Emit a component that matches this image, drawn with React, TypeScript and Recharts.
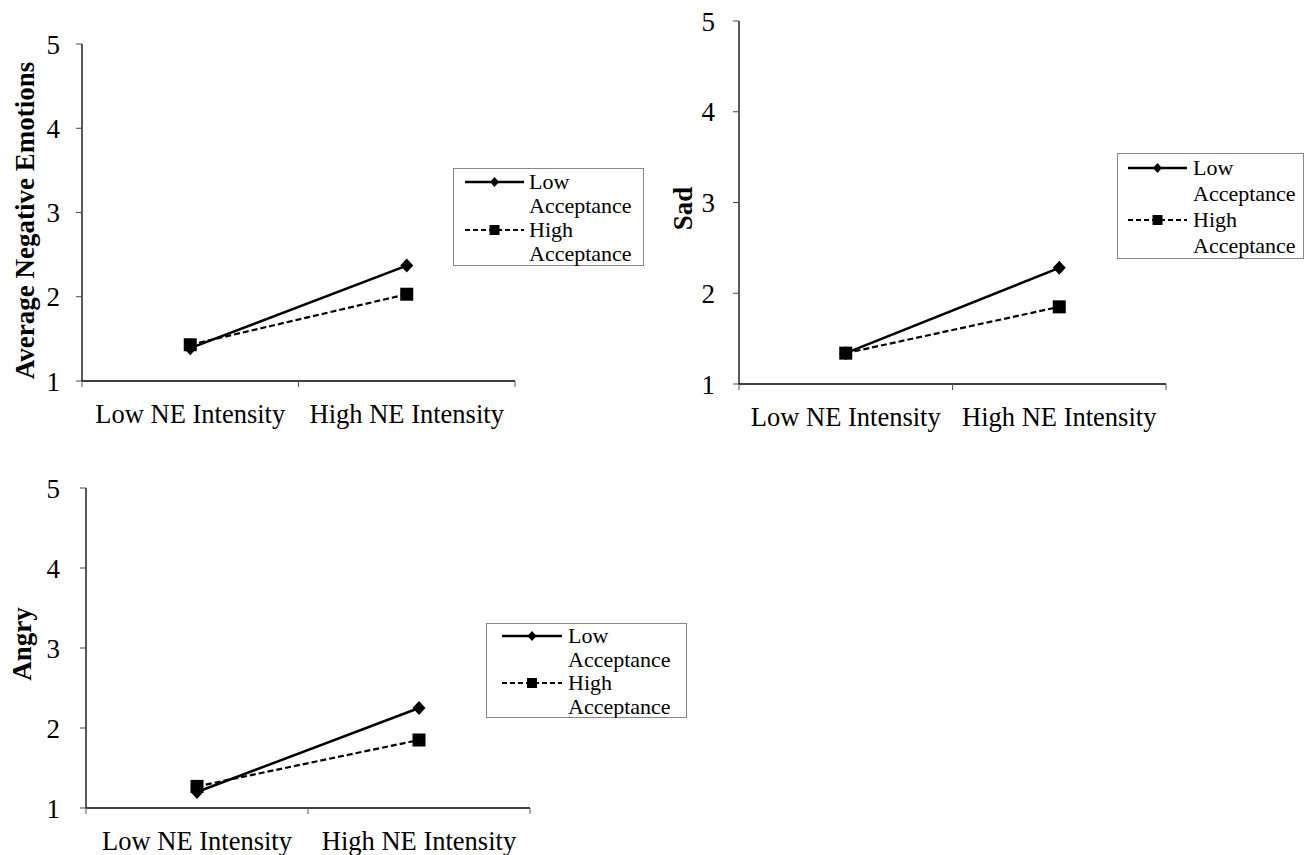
import React from "react";
import { LineChart, Line, XAxis, YAxis, Legend, Label } from "recharts";

const categories = ["Low NE Intensity", "High NE Intensity"];
const seriesNames = ["Low Acceptance", "High Acceptance"];
const yTicks = [1, 2, 3, 4, 5];
const xTicks = [0, 0.5, 1, 1.5, 2];

const negLowAcc = [1.39, 2.37];
const negHighAcc = [1.43, 2.03];
const sadLowAcc = [1.34, 2.28];
const sadHighAcc = [1.34, 1.85];
const angryLowAcc = [1.2, 2.25];
const angryHighAcc = [1.27, 1.85];

const FONT = "'Liberation Serif', 'Times New Roman', 'DejaVu Serif', serif";

function buildData(low: number[], high: number[]) {
  return categories.map((c, i) => ({ pos: i + 0.5, category: c, low: low[i], high: high[i] }));
}

const XTick = (props: any) => {
  const { x, y, payload } = props;
  const v = payload.value;
  if (Math.abs(v - Math.round(v)) < 1e-6) {
    return <line x1={x} x2={x} y1={y} y2={y + 6} stroke="#555" strokeWidth={1} />;
  }
  const idx = Math.floor(v);
  return (
    <text x={x} y={y + 42} textAnchor="middle" style={{ fontFamily: FONT }} fontSize={26.5} fill="#000">
      {categories[idx]}
    </text>
  );
};

const DiamondDot = (props: any) => {
  const { cx, cy, index } = props;
  if (cx == null || cy == null) return <g key={`dd-${index}`} />;
  const w = 6.5;
  const h = 7;
  return (
    <path
      key={`dd-${index}`}
      d={`M${cx},${cy - h}L${cx + w},${cy}L${cx},${cy + h}L${cx - w},${cy}Z`}
      fill="#000"
    />
  );
};

const SquareDot = (props: any) => {
  const { cx, cy, index } = props;
  if (cx == null || cy == null) return <g key={`sd-${index}`} />;
  const s = 6.5;
  return <rect key={`sd-${index}`} x={cx - s} y={cy - s} width={2 * s} height={2 * s} fill="#000" />;
};

type LegendCfg = {
  left: number;
  top: number;
  width: number;
  height: number;
  lineX1: number;
  lineX2: number;
  textX: number;
  firstY: number;
  rowH: number;
};

const makeLegend = (cfg: LegendCfg) => (props: any) => {
  const payload = [...(props.payload || [])].sort(
    (a: any, b: any) => seriesNames.indexOf(String(a.value)) - seriesNames.indexOf(String(b.value))
  );
  return (
    <svg width={cfg.width} height={cfg.height} style={{ display: "block" }}>
      <rect x={0.5} y={0.5} width={cfg.width - 1} height={cfg.height - 1} fill="#fff" stroke="#888" />
      {payload.map((entry: any, i: number) => {
        const ly = cfg.firstY + i * 2 * cfg.rowH;
        const words = String(entry.value).split(" ");
        const mx = (cfg.lineX1 + cfg.lineX2) / 2;
        const isLow = entry.dataKey === "low";
        return (
          <g key={i}>
            <line
              x1={cfg.lineX1}
              x2={cfg.lineX2}
              y1={ly}
              y2={ly}
              stroke="#000"
              strokeWidth={isLow ? 2.4 : 2}
              strokeDasharray={isLow ? undefined : "5 3"}
            />
            {isLow ? (
              <path d={`M${mx},${ly - 5}L${mx + 4.5},${ly}L${mx},${ly + 5}L${mx - 4.5},${ly}Z`} fill="#000" />
            ) : (
              <rect x={mx - 5} y={ly - 5} width={10} height={10} fill="#000" />
            )}
            <text x={cfg.textX} y={ly + 7} style={{ fontFamily: FONT }} fontSize={22} fill="#000">
              {words[0]}
            </text>
            <text x={cfg.textX} y={ly + 7 + cfg.rowH} style={{ fontFamily: FONT }} fontSize={22} fill="#000">
              {words.slice(1).join(" ")}
            </text>
          </g>
        );
      })}
    </svg>
  );
};

type PanelProps = {
  left: number;
  top: number;
  width: number;
  height: number;
  margin: { top: number; right: number; bottom: number; left: number };
  yLabel: string;
  labelX: number;
  labelDy: number;
  tickMargin: number;
  low: number[];
  high: number[];
  legend: LegendCfg;
};

const Panel = (p: PanelProps) => {
  const data = buildData(p.low, p.high);
  const renderYLabel = (props: any) => {
    const vb = props.viewBox || {};
    const cy = (vb.y || 0) + (vb.height || 0) / 2 + p.labelDy;
    return (
      <text
        x={p.labelX}
        y={cy}
        transform={`rotate(-90, ${p.labelX}, ${cy})`}
        textAnchor="middle"
        dominantBaseline="central"
        style={{ fontFamily: FONT }}
        fontWeight="bold"
        fontSize={27}
        fill="#000"
      >
        {p.yLabel}
      </text>
    );
  };
  return (
    <div style={{ position: "absolute", left: p.left, top: p.top, width: p.width, height: p.height, fontFamily: FONT }}>
      <LineChart width={p.width} height={p.height} data={data} margin={p.margin} style={{ fontFamily: FONT }}>
        <XAxis
          dataKey="pos"
          type="number"
          domain={[0, 2]}
          ticks={xTicks}
          interval={0}
          tick={XTick}
          tickLine={false}
          tickSize={0}
          tickMargin={0}
          height={40}
          axisLine={{ stroke: "#000", strokeWidth: 1.3 }}
        />
        <YAxis
          type="number"
          domain={[1, 5]}
          ticks={yTicks}
          interval={0}
          width={60}
          tickSize={6}
          tickMargin={p.tickMargin}
          tickLine={{ stroke: "#444" }}
          axisLine={{ stroke: "#000", strokeWidth: 1.3 }}
          tick={{ fontSize: 27, fill: "#000", style: { fontFamily: FONT } }}
        >
          <Label content={renderYLabel} />
        </YAxis>
        <Legend
          layout="vertical"
          align="center"
          verticalAlign="middle"
          content={makeLegend(p.legend)}
          wrapperStyle={{ left: p.legend.left, top: p.legend.top, width: p.legend.width, height: p.legend.height }}
        />
        <Line
          dataKey="low"
          name={seriesNames[0]}
          stroke="#000"
          strokeWidth={2.5}
          dot={DiamondDot}
          activeDot={false}
          isAnimationActive={false}
        />
        <Line
          dataKey="high"
          name={seriesNames[1]}
          stroke="#000"
          strokeWidth={2.2}
          strokeDasharray="6 3"
          dot={SquareDot}
          activeDot={false}
          isAnimationActive={false}
        />
      </LineChart>
    </div>
  );
};

export default function App() {
  return (
    <div style={{ position: "absolute", left: 0, top: 0, width: 1311, height: 855, background: "#fff", overflow: "hidden", fontFamily: FONT }}>
      <Panel
        left={0}
        top={0}
        width={660}
        height={440}
        margin={{ top: 44, right: 145, bottom: 19, left: 22 }}
        yLabel="Average Negative Emotions"
        labelX={25}
        labelDy={8}
        tickMargin={16}
        low={negLowAcc}
        high={negHighAcc}
        legend={{ left: 453, top: 168, width: 191, height: 98, lineX1: 12, lineX2: 71, textX: 76, firstY: 14, rowH: 24 }}
      />
      <Panel
        left={660}
        top={0}
        width={651}
        height={440}
        margin={{ top: 21, right: 145, bottom: 16, left: 19 }}
        yLabel="Sad"
        labelX={23}
        labelDy={6}
        tickMargin={18}
        low={sadLowAcc}
        high={sadHighAcc}
        legend={{ left: 457, top: 153, width: 187, height: 106, lineX1: 11, lineX2: 70, textX: 76, firstY: 15, rowH: 26 }}
      />
      <Panel
        left={0}
        top={440}
        width={700}
        height={415}
        margin={{ top: 48, right: 170, bottom: 7, left: 26 }}
        yLabel="Angry"
        labelX={22}
        labelDy={-4}
        tickMargin={20}
        low={angryLowAcc}
        high={angryHighAcc}
        legend={{ left: 486, top: 183, width: 201, height: 95, lineX1: 16, lineX2: 76, textX: 82, firstY: 13, rowH: 23.5 }}
      />
    </div>
  );
}
